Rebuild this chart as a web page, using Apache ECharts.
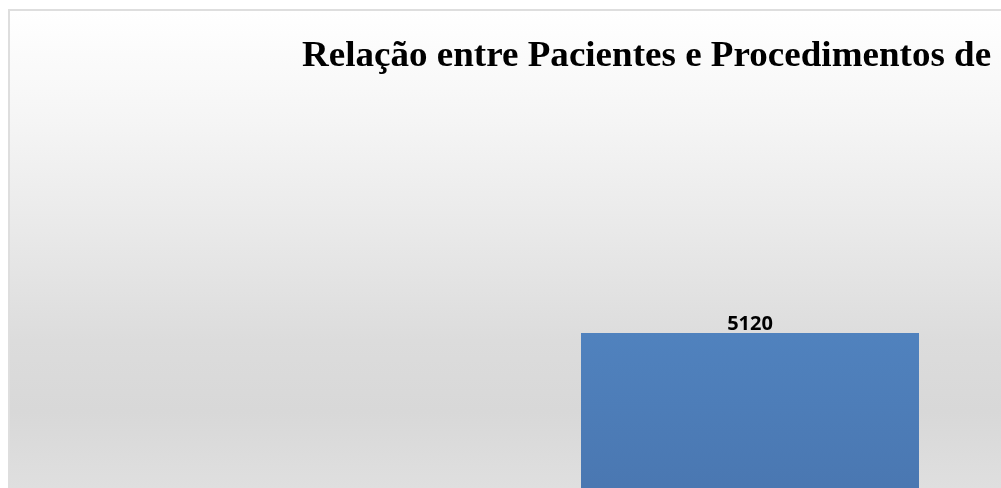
<!DOCTYPE html>
<html>
<head>
<meta charset="utf-8">
<script src="https://cdn.jsdelivr.net/npm/echarts@6/dist/echarts.min.js"></script>
<style>
html,body{margin:0;padding:0;width:1001px;height:488px;overflow:hidden;background:#ffffff;}
#chart{position:absolute;left:8px;top:9px;width:1300px;height:700px;box-sizing:border-box;
border:2px solid #dedede;
background:linear-gradient(to bottom,#ffffff 0px,#f6f6f6 100px,#e9e9e9 220px,#dcdcdc 330px,#d8d8d8 400px,#dfdfdf 477px,#eeeeee 700px);}
</style>
</head>
<body>
<div id="chart"></div>
<script>
const titleText = 'Relação entre Pacientes e Procedimentos de';
const categories = ['Procedimentos'];
const values = [5120];

const chart = echarts.init(document.getElementById('chart'), null, {renderer: 'canvas'});
chart.setOption({
  animation: false,
  backgroundColor: 'transparent',
  graphic: [{
    type: 'text',
    x: 292,
    y: 46,
    scaleX: 1.09,
    scaleY: 1.03,
    style: {
      text: titleText,
      fontFamily: '"Liberation Serif", "Times New Roman", serif',
      fontWeight: 'bold',
      fontSize: 34,
      fill: '#000000',
      align: 'left',
      verticalAlign: 'middle'
    }
  }],
  grid: {left: 571, width: 338, top: 100, height: 455},
  xAxis: {type: 'category', data: categories, show: false},
  yAxis: {type: 'value', min: 0, max: 10000, show: false, splitLine: {show: false}},
  series: [{
    type: 'bar',
    data: values,
    barWidth: 338,
    itemStyle: {
      color: new echarts.graphic.LinearGradient(0, 0, 0, 1, [
        {offset: 0, color: '#5082be'},
        {offset: 1, color: '#4772ab'}
      ])
    },
    label: {
      show: true,
      position: 'top',
      distance: -1,
      fontFamily: '"Open Sans", "Liberation Sans", sans-serif',
      fontWeight: 'bold',
      fontSize: 20,
      color: '#000000'
    }
  }]
});
</script>
</body>
</html>
